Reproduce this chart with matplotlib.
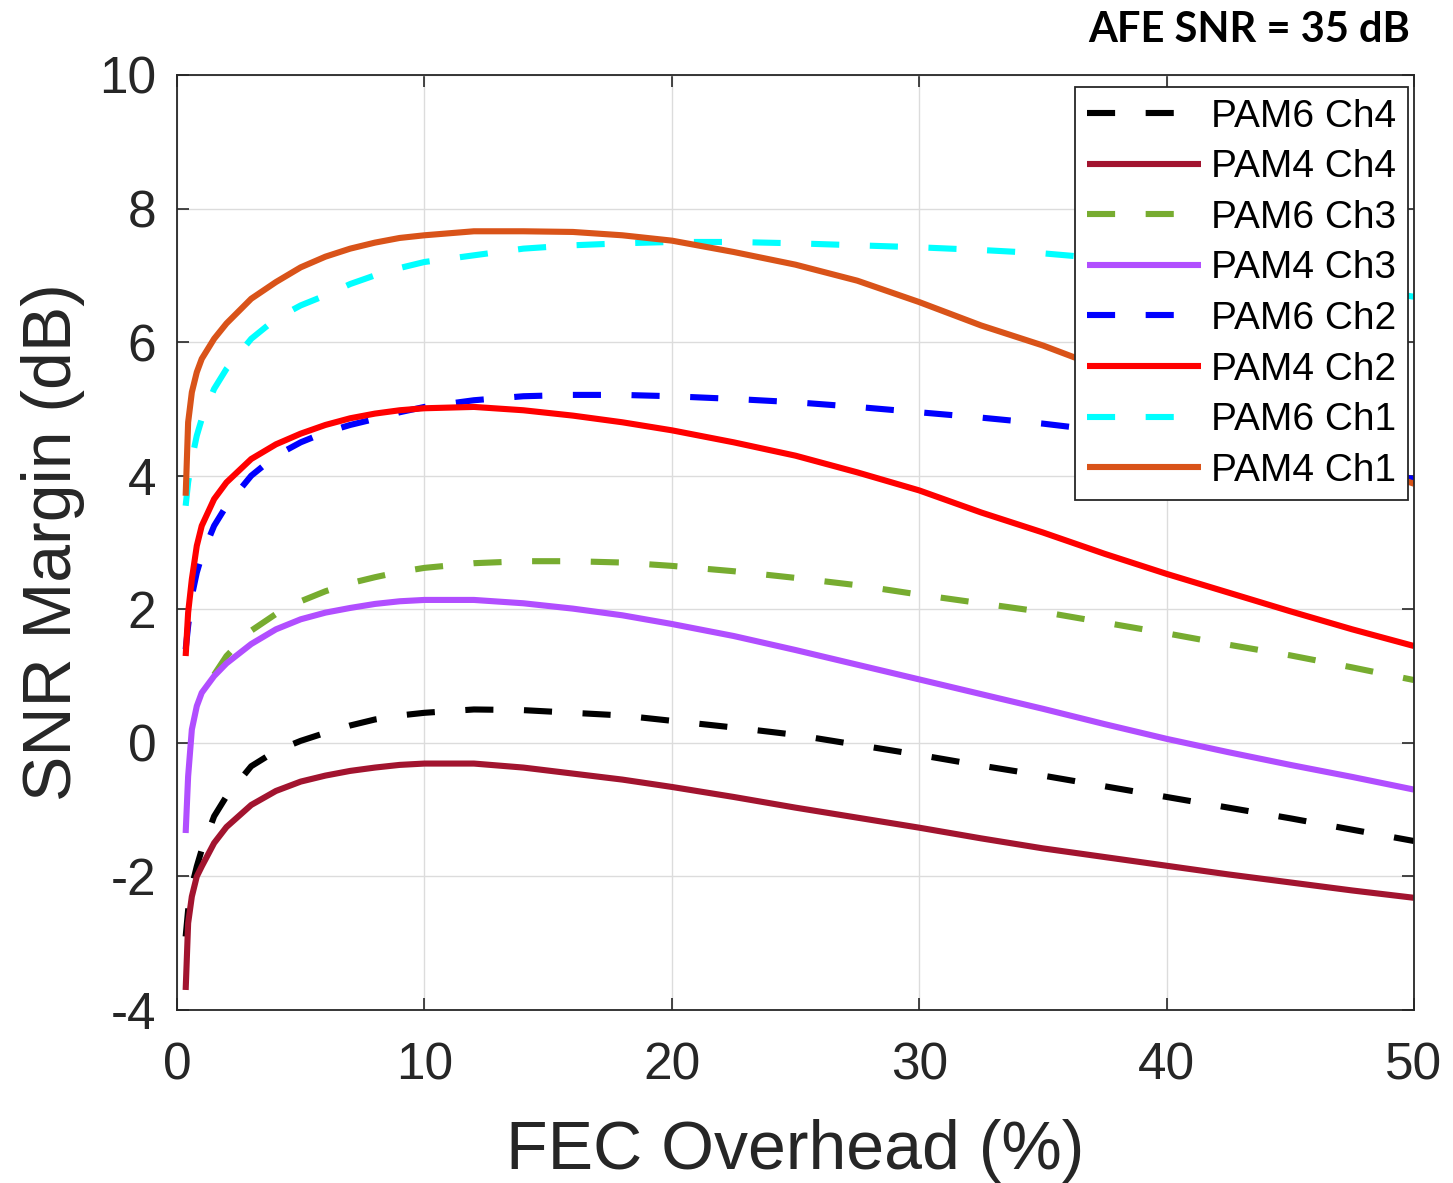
import numpy as np
import matplotlib
matplotlib.use("Agg")
import matplotlib.pyplot as plt

plt.rcParams['font.family'] = ['Liberation Sans', 'DejaVu Sans']
plt.rcParams['axes.unicode_minus'] = False

# ---- data ----
fec_overhead = [0.35, 0.45, 0.6, 0.8, 1, 1.5, 2, 3, 4, 5, 6, 7, 8, 9, 10, 12, 14, 16, 18,
                20, 22.5, 25, 27.5, 30, 32.5, 35, 37.5, 40, 42.5, 45, 47.5, 50]

pam6_ch4 = [-2.9, -2.5, -2.15, -1.85, -1.6, -1.1, -0.8, -0.35, -0.12, 0.03, 0.15, 0.26, 0.35,
            0.41, 0.45, 0.5, 0.49, 0.45, 0.41, 0.33, 0.23, 0.12, -0.03, -0.18, -0.34, -0.49,
            -0.65, -0.81, -0.97, -1.13, -1.3, -1.47]
pam4_ch4 = [-3.7, -2.7, -2.3, -2.0, -1.85, -1.5, -1.26, -0.93, -0.72, -0.58, -0.49, -0.42, -0.37,
            -0.33, -0.31, -0.31, -0.37, -0.46, -0.55, -0.66, -0.81, -0.97, -1.12, -1.27, -1.43,
            -1.58, -1.71, -1.84, -1.97, -2.09, -2.21, -2.32]
pam6_ch3 = [None, None, None, None, None, 1.02, 1.3, 1.68, 1.93, 2.12, 2.27, 2.39, 2.48,
            2.56, 2.62, 2.69, 2.72, 2.72, 2.7, 2.65, 2.57, 2.47, 2.36, 2.22, 2.09, 1.96,
            1.8, 1.64, 1.47, 1.31, 1.13, 0.94]
pam4_ch3 = [-1.35, -0.5, 0.2, 0.55, 0.75, 1.0, 1.19, 1.48, 1.7, 1.85, 1.95, 2.02, 2.08,
            2.12, 2.14, 2.14, 2.09, 2.01, 1.91, 1.78, 1.6, 1.39, 1.17, 0.95, 0.73, 0.51,
            0.28, 0.06, -0.14, -0.33, -0.51, -0.7]
pam6_ch2 = [1.4, 1.75, 2.2, 2.55, 2.8, 3.25, 3.55, 4.0, 4.3, 4.5, 4.65, 4.76, 4.85,
            4.95, 5.03, 5.13, 5.19, 5.21, 5.21, 5.19, 5.15, 5.1, 5.03, 4.95, 4.87, 4.78,
            4.67, 4.55, 4.42, 4.28, 4.12, 3.95]
pam4_ch2 = [1.3, 1.95, 2.45, 2.95, 3.25, 3.65, 3.9, 4.25, 4.47, 4.63, 4.76, 4.86, 4.93,
            4.98, 5.01, 5.03, 4.98, 4.9, 4.8, 4.68, 4.5, 4.3, 4.05, 3.78, 3.45, 3.15,
            2.83, 2.53, 2.25, 1.97, 1.7, 1.45]
pam6_ch1 = [3.55, 3.9, 4.25, 4.6, 4.85, 5.3, 5.6, 6.05, 6.35, 6.55, 6.7, 6.87, 7.0,
            7.11, 7.2, 7.3, 7.4, 7.45, 7.48, 7.5, 7.5, 7.48, 7.45, 7.42, 7.38, 7.33,
            7.25, 7.15, 7.05, 6.95, 6.82, 6.68]
pam4_ch1 = [3.7, 4.8, 5.25, 5.55, 5.75, 6.05, 6.28, 6.65, 6.9, 7.12, 7.28, 7.4, 7.49,
            7.56, 7.6, 7.66, 7.66, 7.65, 7.6, 7.52, 7.35, 7.16, 6.92, 6.6, 6.25, 5.95,
            5.6, 5.25, 4.9, 4.55, 4.2, 3.88]

series_labels = ['PAM6 Ch4', 'PAM4 Ch4', 'PAM6 Ch3', 'PAM4 Ch3',
                 'PAM6 Ch2', 'PAM4 Ch2', 'PAM6 Ch1', 'PAM4 Ch1']
series_values = [pam6_ch4, pam4_ch4, pam6_ch3, pam4_ch3,
                 pam6_ch2, pam4_ch2, pam6_ch1, pam4_ch1]
series_colors = ['#000000', '#A2142F', '#77AC30', '#B14EFF',
                 '#0000FF', '#FF0000', '#00FFFF', '#D95319']
series_dashed = [True, False, True, False, True, False, True, False]

x_ticks = [0, 10, 20, 30, 40, 50]
y_ticks = [-4, -2, 0, 2, 4, 6, 8, 10]

# ---- figure ----
W, H = 1453, 1183
fig = plt.figure(figsize=(W / 100, H / 100), dpi=100)
ax = fig.add_axes([177 / W, 1 - 1010 / H, (1414 - 177) / W, (1010 - 75) / H])

x = np.array(fec_overhead, dtype=float)
for lab, vals, col, dashed in zip(series_labels, series_values, series_colors, series_dashed):
    y = np.array([np.nan if v is None else v for v in vals], dtype=float)
    line, = ax.plot(x, y, color=col, lw=4.4, label=lab,
                    solid_capstyle='butt', dash_capstyle='butt', solid_joinstyle='round')
    if dashed:
        line.set_dashes((4.6, 5.0))

ax.set_xlim(0, 50)
ax.set_ylim(-4, 10)
ax.set_xticks(x_ticks)
ax.set_yticks(y_ticks)
ax.set_xticklabels([str(t) for t in x_ticks])
ax.set_yticklabels([str(t) for t in y_ticks])

ax.grid(True, color='#dcdcdc', lw=1.0)
ax.set_axisbelow(True)
for s in ax.spines.values():
    s.set_color('#262626')
    s.set_linewidth(1.3)
ax.tick_params(direction='in', length=8.5, width=1.2, colors='#262626',
               top=True, right=True, labelsize=37)
ax.tick_params(axis='x', pad=23)
ax.tick_params(axis='y', pad=15)

ax.set_xlabel('FEC Overhead (%)', fontsize=49, color='#262626', labelpad=20)
ax.set_ylabel('SNR Margin (dB)', fontsize=49, color='#262626', labelpad=10)

leg = ax.legend(loc='upper right', bbox_to_anchor=(1408 / W, 1 - 87 / H),
                bbox_transform=fig.transFigure, borderaxespad=0.0,
                fontsize=28, frameon=True, fancybox=False,
                edgecolor='#262626', framealpha=1.0, handlelength=2.95,
                handletextpad=0.25, labelspacing=0.375, borderpad=0.3)
leg.get_frame().set_linewidth(1.3)

fig.text(1410 / W, 1 - 30 / H, 'AFE SNR = 35 dB', ha='right', va='center',
         fontsize=30, fontweight='bold', family=['Lato', 'DejaVu Sans'])

fig.savefig('out.png', dpi=100)
